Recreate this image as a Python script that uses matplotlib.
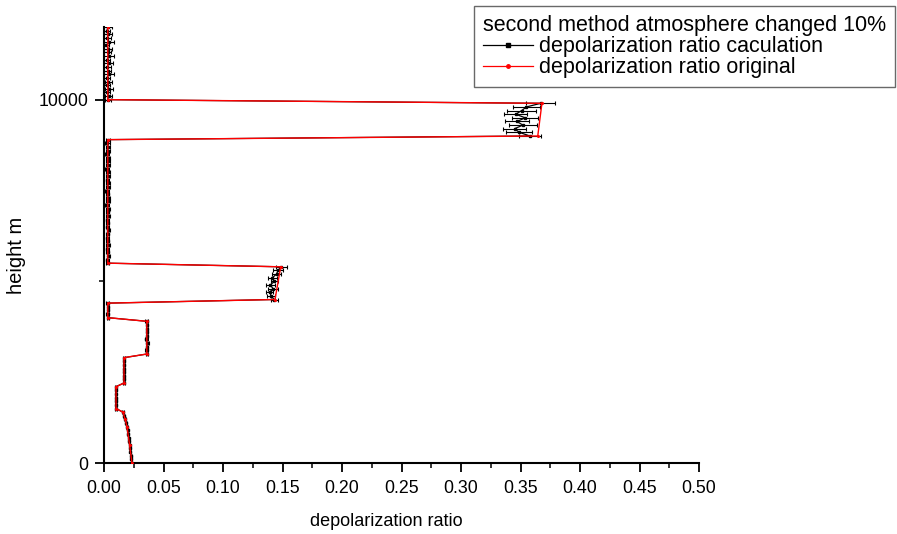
import matplotlib
matplotlib.use("Agg")
import matplotlib.pyplot as plt
from matplotlib.ticker import MultipleLocator
from matplotlib.lines import Line2D

plt.rcParams['font.family'] = ['Liberation Sans', 'DejaVu Sans']

# height grid (m) of the retrieved profile
heights = [0, 100, 200, 300, 400, 500, 600, 700, 800, 900,
           1000, 1100, 1200, 1300, 1400, 1500, 1600, 1700, 1800, 1900,
           2000, 2100, 2200, 2300, 2400, 2500, 2600, 2700, 2800, 2900,
           3000, 3100, 3200, 3300, 3400, 3500, 3600, 3700, 3800, 3900,
           4000, 4100, 4200, 4300, 4400, 4500, 4600, 4700, 4800, 4900,
           5000, 5100, 5200, 5300, 5400, 5500, 5600, 5700, 5800, 5900,
           6000, 6100, 6200, 6300, 6400, 6500, 6600, 6700, 6800, 6900,
           7000, 7100, 7200, 7300, 7400, 7500, 7600, 7700, 7800, 7900,
           8000, 8100, 8200, 8300, 8400, 8500, 8600, 8700, 8800, 8900,
           9000, 9100, 9200, 9300, 9400, 9500, 9600, 9700, 9800, 9900,
           10000, 10100, 10200, 10300, 10400, 10500, 10600, 10700, 10800, 10900,
           11000, 11100, 11200, 11300, 11400, 11500, 11600, 11700, 11800, 11900,
           12000]

# depolarization ratio calculated (second method)
calc = [0.0232, 0.0229, 0.0226, 0.0222, 0.0219, 0.0215, 0.0211, 0.0207, 0.0203, 0.0198,
        0.0192, 0.0186, 0.0178, 0.0169, 0.0158, 0.0101, 0.0099, 0.0102, 0.0100, 0.0098,
        0.0101, 0.0100, 0.0166, 0.0168, 0.0165, 0.0170, 0.0167, 0.0169, 0.0166, 0.0171,
        0.0362, 0.0358, 0.0361, 0.0364, 0.0357, 0.0360, 0.0363, 0.0359, 0.0361, 0.0358,
        0.0035, 0.0031, 0.0033, 0.0036, 0.0030, 0.1430, 0.1405, 0.1392, 0.1420, 0.1398,
        0.1432, 0.1415, 0.1450, 0.1462, 0.1490, 0.0032, 0.0029, 0.0035, 0.0031, 0.0027,
        0.0034, 0.0030, 0.0026, 0.0033, 0.0036, 0.0029, 0.0031, 0.0028, 0.0035, 0.0030,
        0.0033, 0.0027, 0.0032, 0.0036, 0.0030, 0.0028, 0.0034, 0.0031, 0.0029, 0.0035,
        0.0032, 0.0028, 0.0036, 0.0030, 0.0033, 0.0027, 0.0031, 0.0035, 0.0029, 0.0032,
        0.3580, 0.3490, 0.3450, 0.3520, 0.3470, 0.3540, 0.3460, 0.3510, 0.3550, 0.3670,
        0.0030, 0.0038, 0.0026, 0.0041, 0.0029, 0.0035, 0.0022, 0.0043, 0.0031, 0.0027,
        0.0039, 0.0024, 0.0045, 0.0030, 0.0036, 0.0021, 0.0040, 0.0028, 0.0034, 0.0025,
        0.0032]

# error bars of the calculation
calc_err = [0.0006, 0.0006, 0.0006, 0.0006, 0.0006, 0.0006, 0.0006, 0.0006, 0.0006, 0.0006,
            0.0006, 0.0006, 0.0006, 0.0006, 0.0006, 0.0007, 0.0007, 0.0007, 0.0007, 0.0007,
            0.0007, 0.0007, 0.0008, 0.0008, 0.0008, 0.0008, 0.0008, 0.0008, 0.0008, 0.0008,
            0.0010, 0.0010, 0.0010, 0.0010, 0.0010, 0.0010, 0.0010, 0.0010, 0.0010, 0.0010,
            0.0010, 0.0010, 0.0010, 0.0010, 0.0010, 0.0030, 0.0035, 0.0030, 0.0040, 0.0035,
            0.0030, 0.0040, 0.0035, 0.0040, 0.0045, 0.0012, 0.0012, 0.0012, 0.0012, 0.0012,
            0.0013, 0.0013, 0.0013, 0.0013, 0.0013, 0.0014, 0.0014, 0.0014, 0.0014, 0.0014,
            0.0015, 0.0015, 0.0015, 0.0015, 0.0015, 0.0016, 0.0016, 0.0016, 0.0016, 0.0016,
            0.0017, 0.0017, 0.0017, 0.0017, 0.0017, 0.0018, 0.0018, 0.0018, 0.0018, 0.0018,
            0.0090, 0.0110, 0.0100, 0.0120, 0.0100, 0.0110, 0.0095, 0.0120, 0.0110, 0.0120,
            0.0025, 0.0030, 0.0025, 0.0035, 0.0025, 0.0030, 0.0025, 0.0040, 0.0030, 0.0028,
            0.0035, 0.0026, 0.0042, 0.0030, 0.0035, 0.0025, 0.0040, 0.0030, 0.0035, 0.0028,
            0.0032]

# original depolarization ratio profile (breakpoints)
orig_h = [0, 500, 1000, 1200, 1400, 1500, 2100, 2200, 2900, 3000, 3900, 4000,
          4400, 4500, 5400, 5500, 8900, 9000, 9900, 10000, 12000]
orig = [0.0235, 0.0215, 0.0193, 0.0178, 0.0159, 0.0101, 0.0101, 0.0168, 0.0168,
        0.0360, 0.0360, 0.0032, 0.0032, 0.1437, 0.1485, 0.0032, 0.0032, 0.3645,
        0.3680, 0.0032, 0.0032]

fig = plt.figure(figsize=(8.97, 5.34), dpi=100)
ax = fig.add_axes([104 / 897, 1 - 463 / 534, 595 / 897, 436 / 534])

ax.errorbar(calc, heights, xerr=calc_err, color='black', lw=0.9,
            marker='s', ms=1.5, elinewidth=0.8, capsize=1.2, capthick=0.8,
            zorder=2)
ax.plot(orig, orig_h, color='red', lw=1.0, marker='o', ms=1.2, zorder=3)

ax.set_xlim(0, 0.5)
ax.set_ylim(0, 12000)
ax.xaxis.set_major_locator(MultipleLocator(0.05))
ax.xaxis.set_minor_locator(MultipleLocator(0.025))
ax.yaxis.set_major_locator(MultipleLocator(10000))
ax.yaxis.set_minor_locator(MultipleLocator(5000))
ax.set_xticklabels(['%.2f' % v for v in ax.get_xticks()])

for s in ['top', 'right']:
    ax.spines[s].set_visible(False)
for s in ['left', 'bottom']:
    ax.spines[s].set_linewidth(1.5)
ax.tick_params(which='major', direction='out', length=6.5, width=1.3, labelsize=12.8)
ax.tick_params(axis='x', which='major', pad=5.5)
ax.tick_params(axis='y', which='major', pad=5)
ax.tick_params(which='minor', direction='out', length=3.5, width=1.1)

ax.set_xlabel('depolarization ratio', fontsize=13)
ax.set_ylabel('height m', fontsize=14.5)
ax.xaxis.set_label_coords((386 - 104) / 595, -0.115)
ax.yaxis.set_label_coords((26 - 104) / 595, 0.477)

h_calc = Line2D([], [], color='black', lw=0.9, marker='s', ms=2.5)
h_orig = Line2D([], [], color='red', lw=0.9, marker='o', ms=2.5)
leg = fig.legend([h_calc, h_orig],
                 ['depolarization ratio caculation', 'depolarization ratio original'],
                 loc='upper left', bbox_to_anchor=(474 / 897, 1 - 6 / 534),
                 title='second method atmosphere changed 10%', title_fontsize=15.5,
                 fontsize=15.5, frameon=True, fancybox=False, handlelength=2.3,
                 handletextpad=0.28, labelspacing=0.0, borderpad=0.42,
                 borderaxespad=0)
leg._legend_box.align = 'left'
leg.get_frame().set_edgecolor('#444444')
leg.get_frame().set_linewidth(1.0)

fig.savefig('out.png', dpi=100)
